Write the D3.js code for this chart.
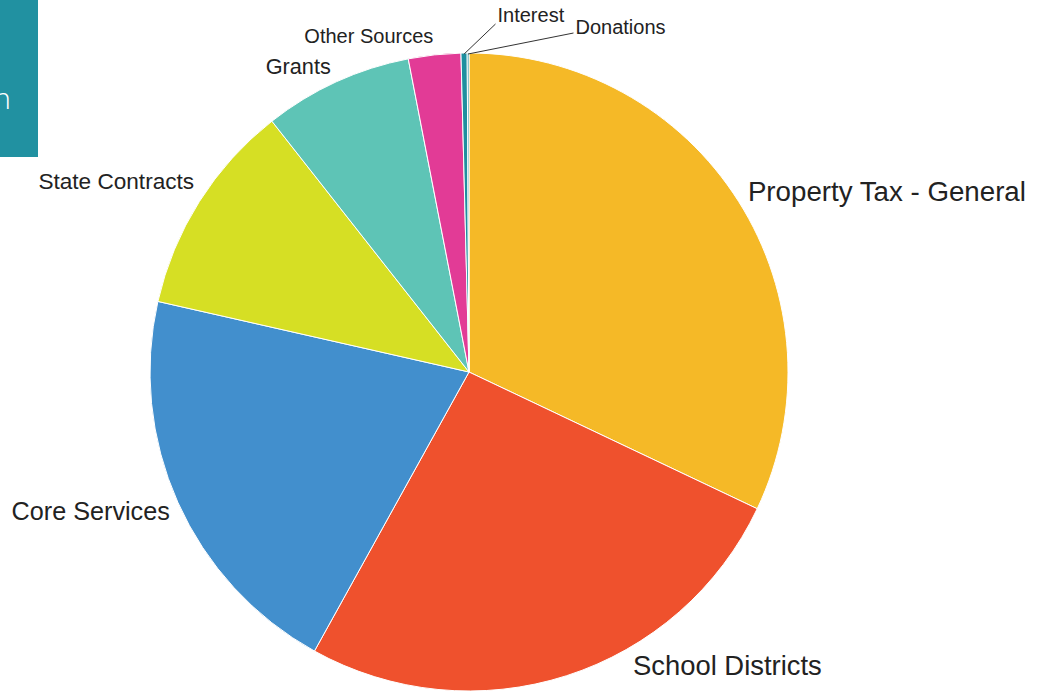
<!DOCTYPE html>
<html>
<head>
<meta charset="utf-8">
<script src="https://cdn.jsdelivr.net/npm/d3@7"></script>
<style>
  html, body { margin: 0; padding: 0; background: #ffffff; }
  svg { display: block; }
</style>
</head>
<body>
<svg id="chart" width="1040" height="693"></svg>
<script>
// ---- data ----
const categories = ["Property Tax - General", "School Districts", "Core Services", "State Contracts", "Grants", "Other Sources", "Interest", "Donations"];
const values = [32.05, 26.0, 20.5, 10.85, 7.55, 2.65, 0.31, 0.09];
const colors = ["#F5B927", "#EF512D", "#428FCD", "#D6DF24", "#5EC4B6", "#E23B96", "#1F8F9F", "#1F8F9F"];
const headerText = "n";

// ---- layout (styles / positions kept apart from data) ----
const W = 1040, H = 693;
const cx = 469, cy = 372, R = 319, labelR = 330;
const fontSizes = [27.7, 27.4, 25.2, 22.6, 21.7, 20, 20, 20];
const labelLayout = [
  {dx: 0, dy: -4, anchor: "start"},
  {dx: 63, dy: -21, anchor: "start"},
  {dx: 2, dy: 4, anchor: "end"},
  {dx: 4, dy: -15, anchor: "end"},
  {dx: -1, dy: -5, anchor: "end"},
  {dx: 0, dy: -8, anchor: "end"},
  {tx: 497.5, ty: 22, anchor: "start", connector: true},
  {tx: 575.5, ty: 34, anchor: "start", connector: true}
];

const svg = d3.select("#chart");

// header box (partially visible)
svg.append("rect").attr("x", 0).attr("y", 0).attr("width", 38).attr("height", 157).attr("fill", "#2191A1");
svg.append("text")
  .attr("x", 11).attr("y", 109)
  .attr("text-anchor", "end")
  .attr("font-family", "'Open Sans', 'Noto Sans', sans-serif")
  .attr("font-weight", 300)
  .attr("font-size", 30)
  .attr("fill", "#ffffff")
  .text(headerText);

const data = categories.map((c, i) => ({name: c, value: values[i], i}));
const pie = d3.pie().sort(null).value(d => d.value);
const arcs = pie(data);
const arc = d3.arc().innerRadius(0).outerRadius(R);

const g = svg.append("g").attr("transform", `translate(${cx},${cy})`);
g.selectAll("path.slice")
  .data(arcs)
  .enter().append("path")
  .attr("class", "slice")
  .attr("d", arc)
  .attr("fill", d => colors[d.data.i])
  .attr("stroke", "#ffffff")
  .attr("stroke-width", 1)
  .attr("stroke-linejoin", "round");

const pointAt = (a, r) => [cx + r * Math.sin(a), cy - r * Math.cos(a)];

arcs.forEach(d => {
  const i = d.data.i;
  const L = labelLayout[i];
  const mid = (d.startAngle + d.endAngle) / 2;
  let x, y;
  if (L.connector) {
    const p0 = pointAt(mid, R - 1);
    x = L.tx; y = L.ty;
    svg.append("line")
      .attr("x1", p0[0]).attr("y1", p0[1])
      .attr("x2", x - 2).attr("y2", y + (i === 6 ? 2 : -1))
      .attr("stroke", "#333333").attr("stroke-width", 1);
    svg.append("text")
      .attr("x", x).attr("y", y)
      .attr("text-anchor", L.anchor)
      .attr("font-family", "'Liberation Sans', Arial, sans-serif")
      .attr("font-size", fontSizes[i])
      .attr("fill", "#222222")
      .text(d.data.name);
  } else {
    const p = pointAt(mid, labelR);
    x = p[0] + L.dx; y = p[1] + L.dy;
    svg.append("text")
      .attr("x", x).attr("y", y)
      .attr("dy", "0.35em")
      .attr("text-anchor", L.anchor)
      .attr("font-family", "'Liberation Sans', Arial, sans-serif")
      .attr("font-size", fontSizes[i])
      .attr("fill", "#222222")
      .text(d.data.name);
  }
});
</script>
</body>
</html>
